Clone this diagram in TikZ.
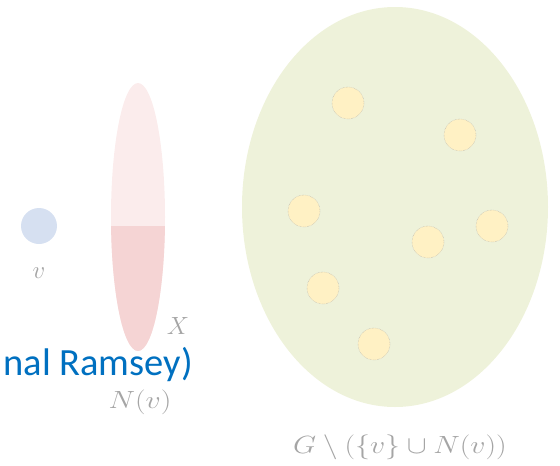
\documentclass[tikz,border=0pt]{standalone}
\usepackage{amsmath,amssymb}
\usepackage{fontspec}
\newfontfamily\slidefont{Carlito}
\usepackage{tikz}
\usetikzlibrary{positioning}
\usetikzlibrary{shapes.geometric}
\definecolor{VBlue}{RGB}{214,224,241}
\definecolor{NPink}{RGB}{251,236,236}
\definecolor{XRed}{RGB}{245,212,212}
\definecolor{RGreen}{RGB}{238,242,218}
\definecolor{PYellow}{RGB}{255,241,196}
\definecolor{LGray}{RGB}{165,165,165}
\definecolor{TBlue}{RGB}{0,112,192}
\tikzset{
	vtx/.style={circle, fill=VBlue, minimum size=36pt, inner sep=0pt},
	nbhd/.style={ellipse, fill=NPink, minimum width=54pt, minimum height=268pt, inner sep=0pt},
	rest/.style={ellipse, fill=RGreen, minimum width=306pt, minimum height=400pt, inner sep=0pt},
	pt/.style={circle, fill=PYellow, draw=LGray, densely dotted, thin, minimum size=32pt, inner sep=0pt},
	lab/.style={text=LGray, inner sep=1pt, font=\fontsize{36}{42}\selectfont},
	widelab/.style={lab, transform shape, xscale=1.2},
	title/.style={text=TBlue, inner sep=0pt, font=\slidefont\fontsize{38.5}{44}\selectfont}
}

\begin{document}
\begin{tikzpicture}[x=1pt, y=-1pt]
	\useasboundingbox (0,0) rectangle (560,466);
	% the vertex v
	\node[vtx] (v) at (39,226) {};
	\node[lab, below=22pt of v] (vlab) {$v$};
	% its neighbourhood, with the part X
	\node[nbhd] (nv) at (138,217) {};
	\begin{scope}
		\clip (100,226) rectangle (180,360);
		\fill[XRed] (nv.center) ellipse [x radius=27, y radius=134];
	\end{scope}
	\node[lab] (xlab) at (178,326) {$X$};
	% the rest of the graph
	\node[rest] (g) at (395,207) {};
	\foreach \p [count=\i] in {(348,103),(460,135),(304,211),(492,226),(428,242),(323,288),(374,344)}
		\node[pt] (p\i) at \p {};
	% leftover slide title
	\node[title, anchor=base east] (ttl) at (193,375) {nal Ramsey)};
	\node[widelab] (nvlab) at (140,402) {$N(v)$};
	\node[widelab] (glab) at (400,447) {$G\setminus(\{v\}\cup N(v))$};
\end{tikzpicture}
\end{document}
